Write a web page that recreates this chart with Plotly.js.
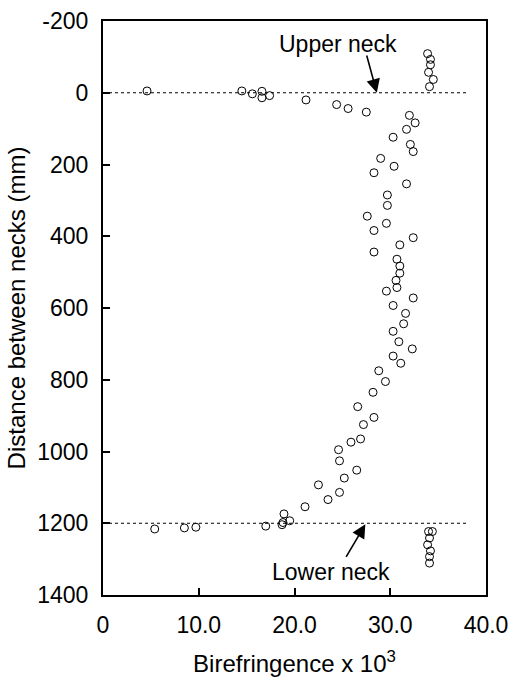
<!DOCTYPE html>
<html>
<head>
<meta charset="utf-8">
<script src="https://cdn.plot.ly/plotly-3.0.1.min.js"></script>
<style>
html,body{margin:0;padding:0;background:#fff;}
#chart{width:511px;height:681px;}
</style>
</head>
<body>
<div id="chart"></div>
<script>
// Birefringence (x 10^3) and distance between necks (mm)
const birefringence = [
  4.6, 14.5, 15.6, 16.6, 16.6, 17.4, 21.2, 24.4, 25.6, 27.5, 32.0, 32.6, 31.7,
  33.9, 34.2, 34.2, 34.0, 34.5, 34.1,
  30.3, 32.1, 32.4, 29.0, 30.4, 28.3, 31.7, 29.7, 29.7, 27.6, 29.6, 28.3, 32.4,
  31.0, 28.3, 30.7, 31.0, 31.0, 30.6, 30.7, 29.6, 32.4, 30.3, 31.6, 31.4, 30.3,
  30.9, 32.3, 30.3, 31.1, 28.8, 29.5, 28.2, 26.6, 28.3, 27.2, 26.9, 25.9, 24.6,
  24.7, 26.5, 25.2, 22.5, 24.7, 23.5, 21.1, 18.9, 19.5, 18.8, 18.7, 17.0, 9.7,
  8.5, 5.4,
  34.4, 34.0, 34.1, 33.9, 34.2, 34.1, 34.1
];
const distance = [
  -5, -5, 3, -4, 14, 8, 20, 33, 44, 54, 63, 84, 102,
  -109, -93, -78, -57, -37, -17,
  124, 144, 164, 183, 205, 223, 254, 285, 314, 344, 364, 384, 404,
  424, 444, 464, 483, 503, 523, 543, 553, 572, 593, 615, 644, 665,
  694, 714, 734, 754, 775, 805, 835, 875, 905, 925, 965, 974, 995,
  1026, 1052, 1074, 1093, 1114, 1134, 1154, 1174, 1193, 1198, 1204, 1208, 1211,
  1213, 1216,
  1223, 1223, 1241, 1260, 1277, 1293, 1311
];
// neck reference lines
const neckNames = ["Upper neck", "Lower neck"];
const neckPositions = [0, 1200];
const neckLineX = [0, 38];
// annotation anchors (label position, arrow tail, arrow tip)
const neckLabelX = [24.5, 23.8];
const neckLabelY = [-137, 1336];
const arrowTailX = [27.5, 25.3];
const arrowTailY = [-108, 1298];
const arrowTipX = [28.6, 27.4];
const arrowTipY = [0, 1203];

const xTickVals = [0, 10, 20, 30, 40];
const xTickText = ["0", "10.0", "20.0", "30.0", "40.0"];
const yTickVals = [-200, 0, 200, 400, 600, 800, 1000, 1200, 1400];
const yTickText = ["-200", "0", "200", "400", "600", "800", "1000", "1200", "1400"];

const FONT = "Liberation Sans, Arial, Helvetica, sans-serif";

const traces = neckPositions.map((p, i) => ({
  type: "scatter", mode: "lines",
  x: neckLineX, y: [p, p],
  line: {color: "#000", width: 1, dash: "dot"},
  hoverinfo: "skip", showlegend: false
}));
traces.push({
  type: "scatter", mode: "markers",
  x: birefringence, y: distance,
  marker: {symbol: "circle-open", size: 8, color: "#000", line: {width: 1, color: "#000"}},
  showlegend: false
});

const annotations = [];
neckNames.forEach((n, i) => {
  annotations.push({
    xref: "x", yref: "y", x: neckLabelX[i], y: neckLabelY[i],
    text: n, showarrow: false, font: {family: FONT, size: 23, color: "#000"}
  });
  annotations.push({
    xref: "x", yref: "y", x: arrowTipX[i], y: arrowTipY[i],
    axref: "x", ayref: "y", ax: arrowTailX[i], ay: arrowTailY[i],
    text: "", showarrow: true, arrowhead: 2, arrowsize: 1.7, arrowwidth: 1.6,
    arrowcolor: "#000", standoff: 0, startstandoff: 0
  });
});

const layout = {
  width: 511, height: 681,
  margin: {l: 103, r: 25, t: 21, b: 86},
  paper_bgcolor: "#fff", plot_bgcolor: "#fff",
  font: {family: FONT, size: 23, color: "#000"},
  showlegend: false,
  xaxis: {
    range: [0, 40], tickvals: xTickVals, ticktext: xTickText,
    showgrid: false, zeroline: false,
    showline: true, linewidth: 2, linecolor: "#000", mirror: true,
    ticks: "inside", ticklen: 7, tickwidth: 2, tickcolor: "#000",
    ticklabelstandoff: 8,
    tickfont: {family: FONT, size: 23, color: "#000"},
    title: {text: "Birefringence x 10<sup>3</sup>", font: {family: FONT, size: 24, color: "#000"}, standoff: 19}
  },
  yaxis: {
    range: [1400, -200], tickvals: yTickVals, ticktext: yTickText,
    showgrid: false, zeroline: false,
    showline: true, linewidth: 2, linecolor: "#000", mirror: true,
    ticks: "inside", ticklen: 7, tickwidth: 2, tickcolor: "#000",
    ticklabelstandoff: 8,
    tickfont: {family: FONT, size: 23, color: "#000"},
    title: {text: "Distance between necks (mm)", font: {family: FONT, size: 24, color: "#000"}, standoff: 5}
  },
  annotations: annotations
};

Plotly.newPlot("chart", traces, layout, {displayModeBar: false, staticPlot: true});
</script>
</body>
</html>
